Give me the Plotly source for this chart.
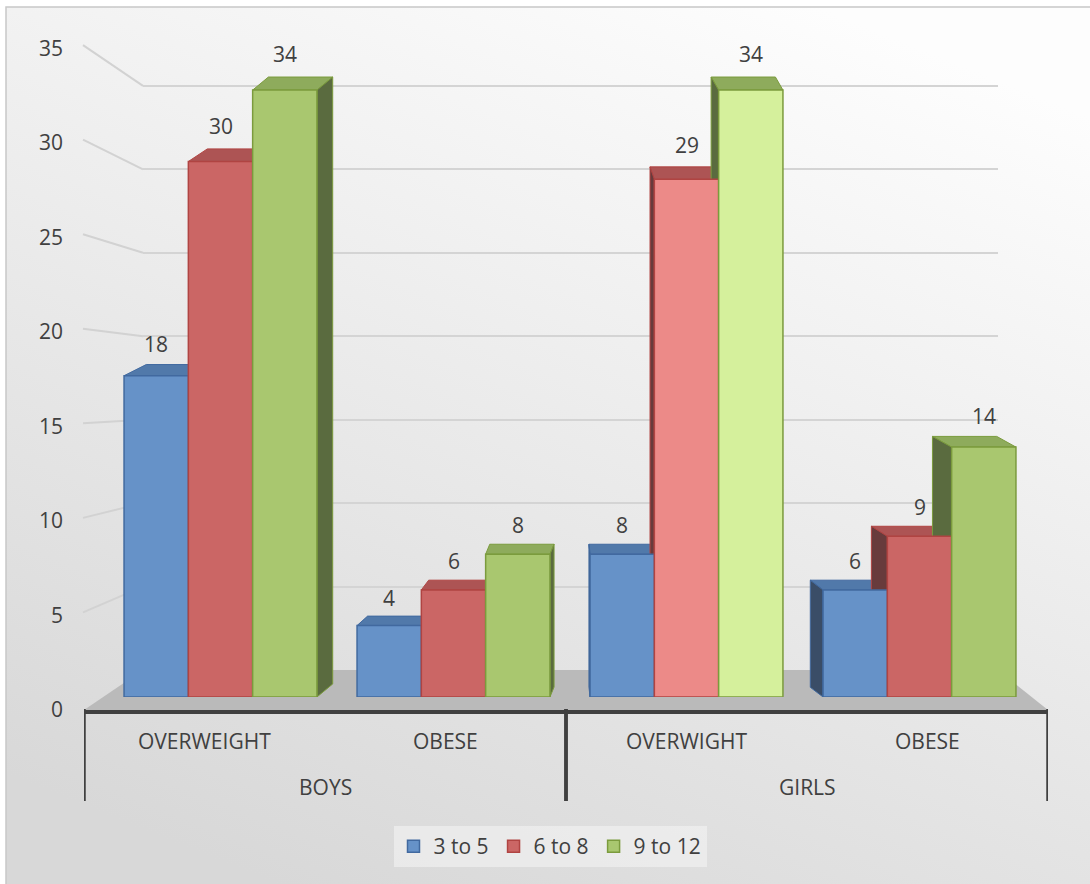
import base64
import plotly.graph_objects as go

W, H = 1090, 884

# ---------------- data ----------------
groups = ["BOYS", "GIRLS"]
group_members = [[0, 1], [2, 3]]
subcats = ["OVERWEIGHT", "OBESE", "OVERWIGHT", "OBESE"]
series_names = ["3 to 5", "6 to 8", "9 to 12"]
age_3_5 = [18, 4, 8, 6]
age_6_8 = [30, 6, 29, 9]
age_9_12 = [34, 8, 34, 14]
y_ticks = [0, 5, 10, 15, 20, 25, 30, 35]
series_values = [age_3_5, age_6_8, age_9_12]

# ---------------- styles ----------------
front_colors = [
    ["#6692c8", "#6692c8", "#6692c8", "#6692c8"],
    ["#cb6665", "#cb6665", "#ec8a88", "#cb6665"],
    ["#a9c76f", "#a9c76f", "#d5f09c", "#a9c76f"],
]
edge_colors = ["#41699f", "#b04442", "#7b9b3d"]
top_colors = ["#5179aa", "#ad5454", "#8eab5c"]
side_colors = ["#3a4d67", "#683b3c", "#5a6b3f"]
text_color = "#404040"
axis_color = "#404040"
FONT = "Open Sans"
FS = 21


def fx(px):
    return px / W


def fy(py):
    return 1 - py / H


# pixel geometry of the pseudo 3-D scene
BAR_ZERO, BAR_SCALE = 697, 17.85        # front faces of columns
UNIT_X = 233                            # pixels per category on the bar axis
X0_CENTER = 220.5                       # pixel centre of first category
BW_PX = 64.3
bw = BW_PX / UNIT_X
FRONT_ZERO, FRONT_SCALE = 710, 18.91    # front plane (tick labels)
BACK_ZERO, BACK_SCALE = 670, 16.69      # back wall (gridlines)
ymax = y_ticks[-1]
cats = list(range(len(subcats)))

fig = go.Figure()

# back wall subplot (gridlines only)
fig.add_trace(go.Scatter(x=[0.5], y=[0], xaxis="x", yaxis="y", mode="markers",
                         marker=dict(opacity=0), showlegend=False, hoverinfo="skip"))

# columns
for j, (name, vals) in enumerate(zip(series_names, series_values)):
    fig.add_trace(go.Bar(
        x=cats, y=vals, name=name, xaxis="x2", yaxis="y2",
        offset=(j - 1.5) * bw, width=bw,
        marker=dict(color=front_colors[j], line=dict(color=edge_colors[j], width=1.5)),
    ))

# front plane subplot: category axis line and value axis labels
fig.add_trace(go.Scatter(x=cats, y=[0] * len(cats), xaxis="x3", yaxis="y3",
                         mode="markers", marker=dict(opacity=0), showlegend=False,
                         hoverinfo="skip"))

shapes = []
annotations = []

# top and side faces of the columns + value labels
for j, vals in enumerate(series_values):
    for i, v in enumerate(vals):
        x0 = i + (j - 1.5) * bw
        x1 = x0 + bw
        cx_px = X0_CENTER + UNIT_X * i + (j - 1) * BW_PX
        s = 0.05 * (600 - cx_px) / UNIT_X
        d_px = 9 + 0.12 * v
        d = d_px / BAR_SCALE
        shapes.append(dict(
            type="path", xref="x2", yref="y2", layer="below",
            path=f"M{x0},{v} L{x1},{v} L{x1 + s},{v + d} L{x0 + s},{v + d} Z",
            fillcolor=top_colors[j], line=dict(color=edge_colors[j], width=1)))
        xe = x1 if s > 0 else x0
        shapes.append(dict(
            type="path", xref="x2", yref="y2", layer="below",
            path=f"M{xe},0 L{xe},{v} L{xe + s},{v + d} L{xe + s},{d} Z",
            fillcolor=side_colors[j], line=dict(color=edge_colors[j], width=1)))
        annotations.append(dict(
            x=x0 + bw / 2, y=v, xref="x2", yref="y2", text=str(v), showarrow=False,
            yanchor="middle", yshift=27 + 0.27 * v,
            font=dict(family=FONT, size=FS, color=text_color)))

# category labels (inner level) and group labels (outer level)
for i, lab in enumerate(subcats):
    annotations.append(dict(x=i, y=fy(741), xref="x3", yref="paper", text=lab,
                            showarrow=False, yanchor="middle",
                            font=dict(family=FONT, size=FS, color=text_color)))
for g, members in zip(groups, group_members):
    annotations.append(dict(x=sum(members) / len(members), y=fy(787), xref="x3",
                            yref="paper", text=g, showarrow=False, yanchor="middle",
                            font=dict(family=FONT, size=FS, color=text_color)))
    for edge in (members[0] - 0.5, members[-1] + 0.5):
        shapes.append(dict(type="line", xref="x3", yref="paper", x0=edge, x1=edge,
                           y0=fy(FRONT_ZERO - 1), y1=fy(801),
                           line=dict(color=axis_color, width=3.5)))

# chart-area background gradient
svg = ('<svg xmlns="http://www.w3.org/2000/svg" width="400" height="400" '
       'preserveAspectRatio="none"><defs><linearGradient id="g" x1="0.75" y1="0" '
       'x2="0.25" y2="1"><stop offset="0" stop-color="#fdfdfd"/>'
       '<stop offset="1" stop-color="#d8d8d8"/></linearGradient></defs>'
       '<rect width="400" height="400" fill="url(#g)"/></svg>')
src = "data:image/svg+xml;base64," + base64.b64encode(svg.encode()).decode()
images = [dict(source=src, xref="paper", yref="paper", x=fx(6), y=fy(7),
               sizex=(W - 6) / W, sizey=(H - 7) / H, xanchor="left", yanchor="top",
               sizing="stretch", layer="below")]

# border of chart area
shapes.append(dict(type="rect", xref="paper", yref="paper", x0=fx(6), y0=fy(7),
                   x1=1.02, y1=-0.02, line=dict(color="#c8c8c8", width=1.5),
                   fillcolor="rgba(0,0,0,0)", layer="below"))

# floor
shapes.append(dict(
    type="path", xref="paper", yref="paper", layer="below",
    path=(f"M{fx(84)},{fy(FRONT_ZERO)} L{fx(143)},{fy(BACK_ZERO)} "
          f"L{fx(998)},{fy(BACK_ZERO)} L{fx(1048)},{fy(FRONT_ZERO)} Z"),
    fillcolor="#bababa", line=dict(width=0)))

# connectors between value-axis labels and back-wall gridlines
for t in y_ticks[1:]:
    shapes.append(dict(type="line", xref="paper", yref="paper", layer="below",
                       x0=fx(83), y0=fy(FRONT_ZERO - FRONT_SCALE * t - 3),
                       x1=fx(143), y1=fy(BACK_ZERO - BACK_SCALE * t),
                       line=dict(color="#d2d2d2", width=2)))

back_top = ymax + 1
fig.update_layout(
    width=W, height=H,
    margin=dict(l=0, r=0, t=0, b=0, pad=0, autoexpand=False),
    paper_bgcolor="white",
    plot_bgcolor="rgba(0,0,0,0)",
    barmode="overlay",
    font=dict(family=FONT, size=FS, color=text_color),
    xaxis=dict(domain=[fx(143), fx(998)], range=[0, 1], visible=False, anchor="y"),
    yaxis=dict(domain=[fy(BACK_ZERO), fy(BACK_ZERO - BACK_SCALE * back_top)],
               range=[0, back_top], tickvals=y_ticks, showgrid=True, gridcolor="#d4d4d4",
               gridwidth=2, showticklabels=False, zeroline=False, showline=False,
               anchor="x"),
    xaxis2=dict(domain=[fx(X0_CENTER - 0.5 * UNIT_X), fx(X0_CENTER + 3.5 * UNIT_X)],
                range=[-0.5, 3.5], visible=False, anchor="y2"),
    yaxis2=dict(domain=[fy(BAR_ZERO), fy(BAR_ZERO - BAR_SCALE * ymax)], range=[0, ymax],
                visible=False, anchor="x2"),
    xaxis3=dict(domain=[fx(84), fx(1048)], range=[-0.5, 3.5], anchor="y3",
                showline=True, linecolor=axis_color, linewidth=3.5, ticks="",
                showticklabels=False, showgrid=False, zeroline=False),
    yaxis3=dict(domain=[fy(FRONT_ZERO), fy(FRONT_ZERO - FRONT_SCALE * ymax)],
                range=[0, ymax], tickvals=y_ticks, anchor="x3", showgrid=False,
                zeroline=False, showline=False, ticks="", ticklabelstandoff=20,
                tickfont=dict(family=FONT, size=FS, color=text_color)),
    legend=dict(orientation="h", x=fx(550), xanchor="center", y=fy(826), yanchor="top",
                bgcolor="rgba(244,244,244,0.6)",
                font=dict(family=FONT, size=FS, color=text_color)),
    shapes=shapes,
    annotations=annotations,
    images=images,
    hovermode=False,
)

fig.write_html("out.html")
